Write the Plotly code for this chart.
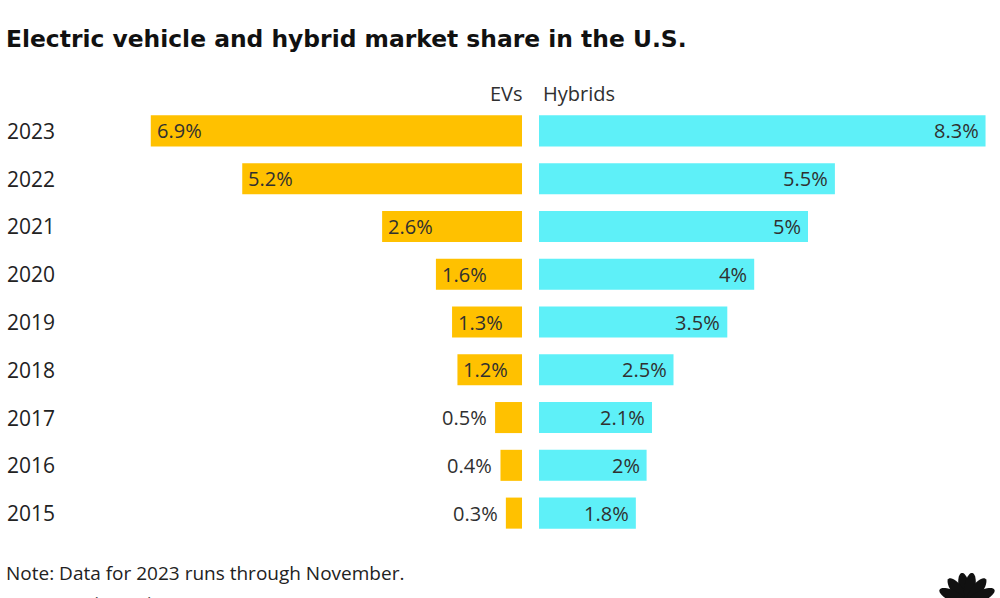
import numpy as np
import plotly.graph_objects as go

# ---- data ----
years = ["2015", "2016", "2017", "2018", "2019", "2020", "2021", "2022", "2023"]
ev_share = [0.3, 0.4, 0.5, 1.2, 1.3, 1.6, 2.6, 5.2, 6.9]
hybrid_share = [1.8, 2.0, 2.1, 2.5, 3.5, 4.0, 5.0, 5.5, 8.3]
ev_labels = ["0.3%", "0.4%", "0.5%", "1.2%", "1.3%", "1.6%", "2.6%", "5.2%", "6.9%"]
hybrid_labels = ["1.8%", "2%", "2.1%", "2.5%", "3.5%", "4%", "5%", "5.5%", "8.3%"]

title_text = "Electric vehicle and hybrid market share in the U.S."
note_text = "Note: Data for 2023 runs through November."
source_text = "Source: Edmunds"

# ---- style ----
W, H = 1000, 598
M_T, M_B = 107, 61
FONT = "Open Sans"
TITLE_FONT = "DejaVu Sans"
EV_COLOR = "#FFC100"
HY_COLOR = "#5EF0F8"
TXT = "#303030"
N = len(years)


def py(p):
    """pixel y (from top) -> paper y"""
    return (H - M_B - p) / (H - M_T - M_B)


def px(p):
    return p / W


def row_y(i):
    """paper y of the centre of category row i (range -0.5 .. N-0.5)"""
    return (i + 0.5) / N


fig = go.Figure()
fig.add_trace(go.Bar(
    y=years, x=ev_share, orientation="h", xaxis="x", yaxis="y",
    marker=dict(color=EV_COLOR, line=dict(width=0)), width=0.65,
    hoverinfo="skip", showlegend=False,
))
fig.add_trace(go.Bar(
    y=years, x=hybrid_share, orientation="h", xaxis="x2", yaxis="y",
    marker=dict(color=HY_COLOR, line=dict(width=0)), width=0.65,
    hoverinfo="skip", showlegend=False,
))

annotations = []
# value labels
for i, (v, lab) in enumerate(zip(ev_share, ev_labels)):
    inside = v >= 1
    annotations.append(dict(
        x=v, y=row_y(i), xref="x", yref="paper", text=lab, showarrow=False,
        xanchor="left" if inside else "right", yanchor="middle",
        xshift=4 if inside else -6,
        font=dict(family=FONT, size=20, color=TXT),
    ))
for i, (v, lab) in enumerate(zip(hybrid_share, hybrid_labels)):
    annotations.append(dict(
        x=v, y=row_y(i), xref="x2", yref="paper", text=lab, showarrow=False,
        xanchor="right", yanchor="middle", xshift=-5,
        font=dict(family=FONT, size=20, color=TXT),
    ))
# year labels
for i, yr in enumerate(years):
    annotations.append(dict(
        x=px(5), y=row_y(i), xref="paper", yref="paper", text=yr, showarrow=False,
        xanchor="left", yanchor="middle",
        font=dict(family=FONT, size=21, color="#222222"),
    ))
# column headers
annotations.append(dict(x=px(525), y=py(93), xref="paper", yref="paper", text="EVs",
                        showarrow=False, xanchor="right", yanchor="middle",
                        font=dict(family=FONT, size=20, color=TXT)))
annotations.append(dict(x=px(541), y=py(93), xref="paper", yref="paper", text="Hybrids",
                        showarrow=False, xanchor="left", yanchor="middle",
                        font=dict(family=FONT, size=20, color=TXT)))
# note / source
annotations.append(dict(x=px(4), y=py(573), xref="paper", yref="paper", text=note_text,
                        showarrow=False, xanchor="left", yanchor="middle",
                        font=dict(family=FONT, size=19, color="#222222")))
annotations.append(dict(x=px(4), y=py(604), xref="paper", yref="paper", text=source_text,
                        showarrow=False, xanchor="left", yanchor="middle",
                        font=dict(family=FONT, size=19, color="#555555")))

# ---- peacock-style logo (decoration) ----
shapes = []
cx, cy = 967.0, 603.0
for ang in [100, 127, 154, 80, 53, 26]:
    a = np.deg2rad(ang)
    ux, uy = np.cos(a), -np.sin(a)
    mx, my = cx + 16.5 * ux, cy + 16.5 * uy
    t = np.linspace(0, 2 * np.pi, 40)
    a_len, b_len = 14.0, 5.5
    xs = mx + a_len * np.cos(t) * ux - b_len * np.sin(t) * uy
    ys = my + a_len * np.cos(t) * uy + b_len * np.sin(t) * ux
    path = "M " + " L ".join(f"{px(x):.5f},{py(y):.5f}" for x, y in zip(xs, ys)) + " Z"
    shapes.append(dict(type="path", path=path, xref="paper", yref="paper",
                       fillcolor="#111111", line=dict(width=0), layer="above"))

fig.update_layout(
    width=W, height=H,
    margin=dict(l=0, r=0, t=M_T, b=M_B),
    paper_bgcolor="white", plot_bgcolor="white",
    barmode="overlay",
    title=dict(text=f"<b>{title_text}</b>", x=px(6), xanchor="left", xref="paper",
               y=1 - 38.5 / H, yanchor="middle", yref="container",
               font=dict(family=TITLE_FONT, size=23.4, color="#111111")),
    xaxis=dict(domain=[0, 0.522], range=[522 / 53.8, 0], visible=False, fixedrange=True),
    xaxis2=dict(domain=[0.539, 1.0], range=[0, 461 / 53.8], visible=False,
                anchor="y", fixedrange=True),
    yaxis=dict(type="category", categoryorder="array", categoryarray=years,
               range=[-0.5, N - 0.5], visible=False, fixedrange=True),
    annotations=annotations,
    shapes=shapes,
    font=dict(family=FONT),
)

fig.write_html("out.html", config={"displayModeBar": False},
               post_script="document.body.style.margin='0';document.body.style.overflow='hidden';")
